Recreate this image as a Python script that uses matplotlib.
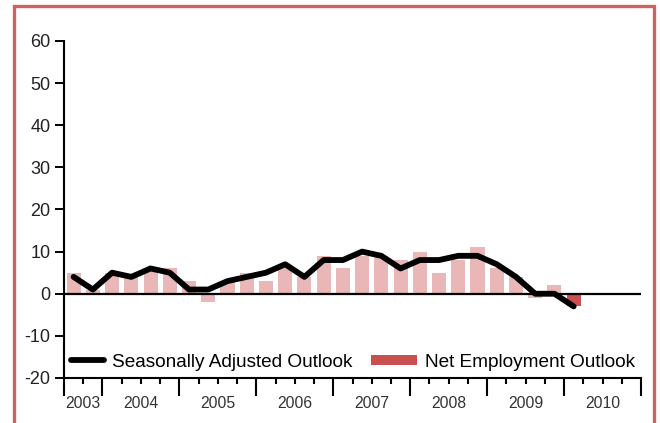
import matplotlib
matplotlib.use("Agg")
import matplotlib.pyplot as plt
from matplotlib.lines import Line2D
from matplotlib.patches import Patch, Rectangle

plt.rcParams['font.family'] = ['Liberation Sans', 'DejaVu Sans']

# Quarterly survey results, 2003 Q3 through 2010 Q1
years = ["2003", "2004", "2005", "2006", "2007", "2008", "2009", "2010"]
quarters_per_year = [2, 4, 4, 4, 4, 4, 4, 4]
net_outlook = [5, 1, 5, 4, 6, 6, 3, -2, 3, 5, 3, 6, 4, 9,
               6, 9, 9, 8, 10, 5, 8, 11, 6, 4, -1, 2, -3]
seasonal_outlook = [4, 1, 5, 4, 6, 5, 1, 1, 3, 4, 5, 7, 4, 8,
                    8, 10, 9, 6, 8, 8, 9, 9, 7, 4, 0, 0, -3]
y_ticks = [-20, -10, 0, 10, 20, 30, 40, 50, 60]

pink = "#e9b7b7"
red = "#c9504f"
frame_red = "#d35f5f"
txt = "#222222"

fig = plt.figure(figsize=(6.6, 4.23), dpi=100)
ax = fig.add_axes([64 / 660, 1 - 378 / 423, 577 / 660, 337 / 423])

# Outer frame around the chart (bottom runs past the canvas edge)
fig.patches.append(Rectangle((13.5 / 660, -0.1), 640.5 / 660, 1.1 - 6.5 / 423,
                             transform=fig.transFigure, fill=False,
                             edgecolor=frame_red, linewidth=2.4, zorder=0))

n_total = sum(quarters_per_year)
xs = list(range(len(net_outlook)))
bar_colors = [pink] * (len(net_outlook) - 1) + [red]
ax.bar(xs, net_outlook, width=0.73, color=bar_colors, zorder=1)
ax.axhline(0, color="black", linewidth=1.6, zorder=2)
ax.plot(xs, seasonal_outlook, color="black", linewidth=4.2,
        solid_joinstyle="round", solid_capstyle="round", zorder=3)

ax.set_xlim(-0.5, n_total - 0.5)
ax.set_ylim(-20, 60)

for side in ("top", "right"):
    ax.spines[side].set_visible(False)
for side in ("left", "bottom"):
    ax.spines[side].set_linewidth(1.5)

ax.set_yticks(y_ticks)
ax.set_yticklabels([str(v) for v in y_ticks])
ax.tick_params(axis="y", direction="out", length=6.5, width=1.4, pad=3.2,
               labelsize=13, labelcolor=txt)

# Year boundaries as long ticks, quarter boundaries as short ticks
bounds = [-0.5]
for q in quarters_per_year:
    bounds.append(bounds[-1] + q)
quarter_bounds = [b - 0.5 for b in range(n_total + 1) if (b - 0.5) not in bounds]
ax.set_xticks(bounds)
ax.set_xticklabels([])
ax.set_xticks(quarter_bounds, minor=True)
ax.tick_params(axis="x", which="major", direction="out", length=13, width=1.5)
ax.tick_params(axis="x", which="minor", direction="out", length=4.5, width=1.5)

for i, yr in enumerate(years):
    cx = (bounds[i] + bounds[i + 1]) / 2
    ax.text(cx, -0.077, yr, transform=ax.get_xaxis_transform(),
            ha="center", va="center", fontsize=11.3, color="#333333")

line_handle = Line2D([], [], color="black", linewidth=4.2, solid_capstyle="round")
patch_handle = Patch(facecolor=red, edgecolor="none")
leg1 = ax.legend([line_handle], ["Seasonally Adjusted Outlook"],
                 loc="center left", bbox_to_anchor=(0.012, 0.047),
                 frameon=False, fontsize=13.7, handlelength=1.75,
                 handletextpad=0.42, borderpad=0, borderaxespad=0)
ax.add_artist(leg1)
ax.legend([patch_handle], ["Net Employment Outlook"],
          loc="center left", bbox_to_anchor=(0.532, 0.047),
          frameon=False, fontsize=13.7, handlelength=2.4, handleheight=0.46,
          handletextpad=0.46, borderpad=0, borderaxespad=0)

fig.savefig("out.png", dpi=100)
